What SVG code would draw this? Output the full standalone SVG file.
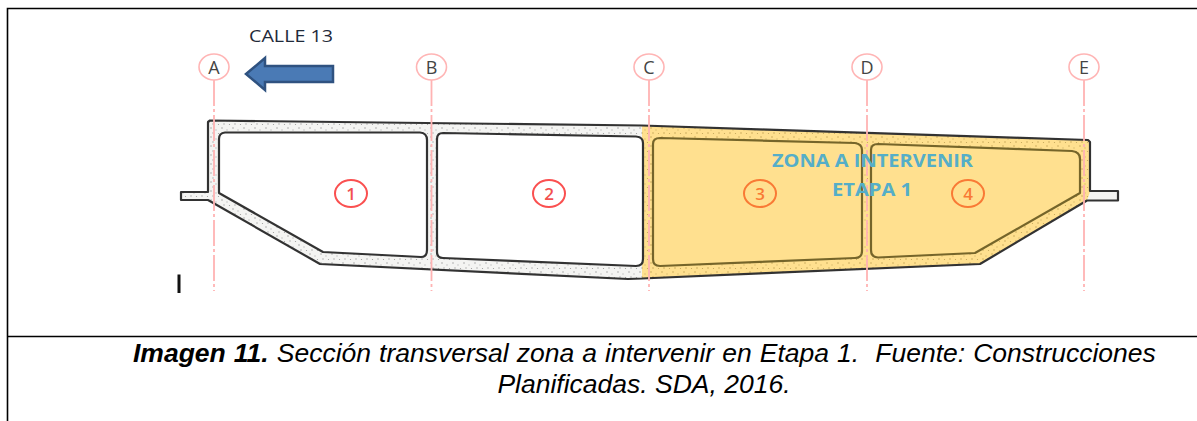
<svg xmlns="http://www.w3.org/2000/svg" width="1197" height="421" viewBox="0 0 1197 421">
<style>
.axis{stroke:#ffb3b3;stroke-width:1.8;fill:none;stroke-dasharray:26 3 3 3}
.bub{fill:#fff;stroke:#ffb5b5;stroke-width:1.6}
.bubt{font-family:"Open Sans","Liberation Sans",sans-serif;font-size:18px;fill:#444;text-anchor:middle}
.num{fill:none;stroke:#fa5050;stroke-width:2}
.numt{font-family:"Open Sans","Liberation Sans",sans-serif;font-size:17px;font-weight:600;fill:#f25050;text-anchor:middle}
.num2{fill:none;stroke:#f97a35;stroke-width:2}
.numt2{font-family:"Open Sans","Liberation Sans",sans-serif;font-size:17px;font-weight:600;fill:#f97a35;text-anchor:middle}
.cell{fill:#fff;stroke:#333;stroke-width:2.200;stroke-linejoin:round}
.cell2{fill:#ffe08f;stroke:#75652a;stroke-width:2.200;stroke-linejoin:round}
.zone{font-family:"Open Sans","Liberation Sans",sans-serif;font-size:17.500px;font-weight:700;fill:#55aec8;text-anchor:middle}
.cap{font-family:"Liberation Sans",Arial,sans-serif;font-size:26.500px;font-style:italic;fill:#000}
.rule{stroke:#000;stroke-width:1.600;fill:none}
</style>
<defs>
<filter id="soft" x="-2%" y="-2%" width="104%" height="104%"><feGaussianBlur stdDeviation="0.5"/></filter>
<pattern id="sp" width="11" height="9" patternUnits="userSpaceOnUse">
<rect width="11" height="9" fill="#f4f4f2"/>
<circle cx="2" cy="2" r=".8" fill="#a8a8a8"/><circle cx="7" cy="4" r=".7" fill="#bcbcbc"/><circle cx="4" cy="7" r=".8" fill="#b0b0b0"/><circle cx="9.500" cy="7.500" r=".6" fill="#999"/>
</pattern>
<pattern id="spy" width="11" height="9" patternUnits="userSpaceOnUse">
<rect width="11" height="9" fill="#ffe08f"/>
<circle cx="2" cy="2" r=".8" fill="#c9a95a"/><circle cx="7" cy="4" r=".7" fill="#d6b96c"/><circle cx="4" cy="7" r=".8" fill="#c9a95a"/><circle cx="9.500" cy="7.500" r=".6" fill="#c2a455"/>
</pattern>
</defs>
<g id="frame">
<path class="rule" d="M7.500 421V8.500H1197M7.500 336.500H1197"/>
</g>
<g id="section" filter="url(#soft)">
<path d="M210 120.500L642 125.500V278.500L628 279L320 264L208 200H181V192H208V122Z" fill="url(#sp)"/>
<path d="M642 125.500L1090 140V191H1118V200.500H1087L980 264L642 278.500Z" fill="url(#spy)"/>
<path d="M1090 192H1118V200.500H1087Z" fill="#f4f4f2"/>
<path d="M642 278.500L628 279L320 264L208 200H181V192H208V122L210 120.500L642 125.500L1088 140L1090 142V191H1118V200.500H1087L980 264L642 278.500" fill="none" stroke="#333" stroke-width="2.200" stroke-linejoin="round"/>
<path id="cell1-shape" class="cell" d="M225 132.500H420Q427 133 427 140V250Q427 257 421 257L323 252L219 193V139Q219 133 225 132.500Z"/>
<path id="cell2-shape" class="cell" d="M443 133L636 136.500Q643 137 643 143V259Q643 266 636 266L443 258Q437 258 437 252V139Q437 133 443 133Z"/>
<path id="cell3-shape" class="cell2" d="M660 138L855 143Q862 144 862 150V251Q862 258 855 258L660 266Q653 266 653 259V144Q653 138 660 138Z"/>
<path id="cell4-shape" class="cell2" d="M878 144L1072 151Q1080 152 1080 159V193L975 253L878 257.500Q871 257 871 250V150Q871 144 878 144Z"/>
</g>
<g id="connectors" filter="url(#soft)">
<path class="axis" d="M214 80V291"/>
<path class="axis" d="M431.500 80V291"/>
<path class="axis" d="M649 80V291"/>
<path class="axis" d="M867 80V291"/>
<path class="axis" d="M1084 80V291"/>
</g>
<g id="axis-A"><ellipse class="bub" cx="214" cy="67" rx="15" ry="13"/><text class="bubt" x="214" y="73.500">A</text></g>
<g id="axis-B"><ellipse class="bub" cx="431.500" cy="67" rx="15" ry="13"/><text class="bubt" x="431.500" y="73.500">B</text></g>
<g id="axis-C"><ellipse class="bub" cx="649" cy="67" rx="15" ry="13"/><text class="bubt" x="649" y="73.500">C</text></g>
<g id="axis-D"><ellipse class="bub" cx="867" cy="67" rx="15" ry="13"/><text class="bubt" x="867" y="73.500">D</text></g>
<g id="axis-E"><ellipse class="bub" cx="1084" cy="67" rx="15" ry="13"/><text class="bubt" x="1084" y="73.500">E</text></g>
<g id="cell-1"><ellipse class="num" cx="351" cy="193.500" rx="16" ry="13.500"/><text class="numt" x="351" y="199.500">1</text></g>
<g id="cell-2"><ellipse class="num" cx="549" cy="193.500" rx="16" ry="13.500"/><text class="numt" x="549" y="199.500">2</text></g>
<g id="cell-3"><ellipse class="num2" cx="760" cy="193.500" rx="16" ry="13.500"/><text class="numt2" x="760" y="199.500">3</text></g>
<g id="cell-4"><ellipse class="num2" cx="968" cy="193.500" rx="16" ry="13.500"/><text class="numt2" x="968" y="199.500">4</text></g>
<g id="zone-label">
<text class="zone" x="872.500" y="166.500" textLength="201" lengthAdjust="spacingAndGlyphs">ZONA A INTERVENIR</text>
<text class="zone" x="872" y="196" textLength="80" lengthAdjust="spacingAndGlyphs">ETAPA 1</text>
</g>
<g id="street">
<text x="291" y="42" font-family="'Open Sans','Liberation Sans',sans-serif" font-size="17" fill="#1f2a3a" text-anchor="middle" textLength="84" lengthAdjust="spacingAndGlyphs">CALLE 13</text>
<path d="M246 74L265 58V66H333V82H265V90Z" fill="#4a7ab5" stroke="#2f5280" stroke-width="2.500"/>
</g>
<g id="mark"><rect x="177.500" y="274.500" width="3" height="18.500" fill="#111"/></g>
<g id="caption">
<text class="cap" x="133" y="362" xml:space="preserve" word-spacing="0.7"><tspan font-weight="700">Imagen 11.</tspan> Sección transversal zona a intervenir en Etapa 1.  Fuente: Construcciones</text>
<text class="cap" x="644" y="393" text-anchor="middle">Planificadas. SDA, 2016.</text>
</g>
</svg>
